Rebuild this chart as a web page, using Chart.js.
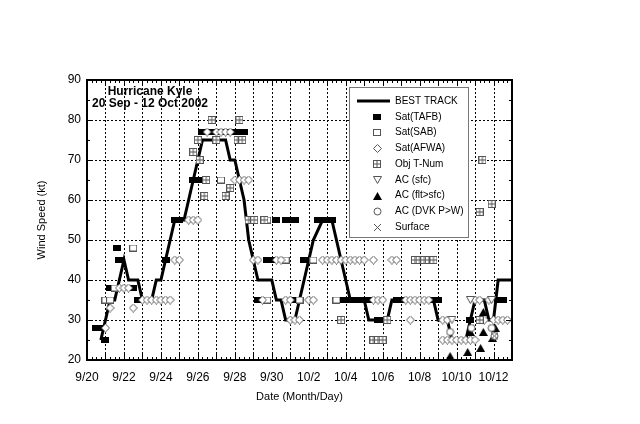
<!DOCTYPE html>
<html>
<head>
<meta charset="utf-8">
<title>Hurricane Kyle - wind speed</title>
<script src="https://cdn.jsdelivr.net/npm/chart.js@4.4.1/dist/chart.umd.min.js"></script>
<style>
  html, body { margin: 0; padding: 0; background: #fff; }
  #chart { display: block; }
</style>
</head>
<body>
<canvas id="chart" width="640" height="424"></canvas>
<script>
// x = days since 20 Sep 2002 00 UTC, y = wind speed (kt)
const xTickLabels = ['9/20', '9/22', '9/24', '9/26', '9/28', '9/30', '10/2', '10/4', '10/6', '10/8', '10/10', '10/12'];
const yTickValues = [20, 30, 40, 50, 60, 70, 80, 90];
const xMaxDay = 23;

const bestTrack = [
  [0.75, 25], [1.0, 30], [1.25, 35], [1.5, 35], [1.75, 40], [2.0, 45], [2.25, 40], [2.75, 40],
  [3.0, 35], [3.5, 35], [3.75, 40], [4.0, 40], [4.25, 45], [4.5, 50], [4.75, 55], [5.25, 55],
  [5.5, 60], [5.75, 65], [6.0, 70], [6.25, 75], [7.5, 75], [7.75, 70], [8.0, 70], [8.25, 65],
  [8.5, 60], [8.75, 50], [9.0, 45], [9.25, 40], [10.0, 40], [10.25, 35], [10.5, 35], [10.75, 30],
  [11.25, 30], [11.5, 35], [11.75, 40], [12.0, 45], [12.25, 50], [12.75, 55], [13.25, 55], [13.5, 50],
  [13.75, 45], [14.0, 40], [14.25, 35], [15.0, 35], [15.25, 30], [16.25, 30], [16.5, 35], [18.75, 35],
  [19.0, 30], [19.5, 30], [19.75, 25], [20.5, 25], [20.75, 30], [21.0, 35], [21.5, 35], [21.75, 30],
  [22.0, 30], [22.25, 40], [23.0, 40]
];

const satTafb = [
  [0.5, 28], [0.75, 28], [1.0, 25], [1.25, 38], [1.6, 48], [1.75, 45], [2.5, 38], [2.75, 35],
  [4.25, 45], [4.75, 55], [5.0, 55], [5.75, 65], [6.0, 65], [6.25, 77], [6.5, 77], [6.75, 77],
  [7.0, 77], [7.25, 77], [7.5, 77], [7.75, 77], [8.0, 77], [8.25, 77], [8.5, 77], [9.0, 55],
  [9.25, 35], [9.75, 45], [10.0, 45], [10.25, 55], [10.75, 55], [11.0, 55], [11.25, 55], [11.25, 35],
  [11.75, 45], [12.0, 45], [12.5, 55], [12.75, 55], [13.0, 55], [13.25, 55], [13.75, 35], [14.0, 35],
  [14.25, 35], [14.5, 35], [14.75, 35], [15.0, 35], [15.25, 35], [15.75, 30], [16.0, 30], [16.75, 35],
  [17.0, 35], [18.75, 35], [19.0, 35], [20.75, 30], [22.25, 35], [22.5, 35]
];

const satSab = [
  [1.0, 35], [1.25, 35], [1.5, 38], [2.5, 48], [7.25, 65], [8.75, 55], [9.75, 55], [9.75, 35],
  [10.75, 45], [11.5, 35], [12.25, 45], [13.5, 35]
];

const satAfwa = [
  [1.0, 28], [1.25, 33], [1.75, 38], [2.0, 38], [2.25, 38], [2.5, 33], [3.0, 35], [3.25, 35],
  [3.5, 35], [3.75, 35], [4.0, 35], [4.25, 35], [4.5, 35], [4.75, 45], [5.0, 45], [5.5, 55],
  [5.75, 55], [6.0, 55], [6.5, 77], [7.0, 77], [7.25, 77], [7.5, 77], [7.75, 77], [8.0, 65],
  [8.25, 65], [8.5, 65], [8.75, 65], [9.0, 45], [9.25, 45], [9.5, 35], [10.25, 45], [10.5, 45],
  [10.75, 35], [11.0, 35], [11.0, 30], [11.25, 30], [11.5, 30], [12.0, 35], [12.25, 35],
  [12.75, 45], [13.0, 45], [13.25, 45], [13.5, 45], [13.75, 45], [14.0, 45], [14.25, 45], [14.5, 45],
  [14.75, 45], [15.0, 45], [15.5, 45], [16.5, 45], [16.75, 45], [15.5, 35], [15.75, 35], [16.0, 35],
  [17.25, 35], [17.5, 35], [17.75, 35], [18.0, 35], [18.25, 35], [18.5, 35], [17.5, 30], [19.25, 30],
  [19.5, 30], [19.25, 25], [19.5, 25], [19.75, 25], [20.0, 25], [20.25, 25], [20.5, 25], [20.75, 25],
  [21.0, 25], [21.0, 35], [21.25, 35], [21.75, 35], [21.5, 30], [22.0, 30], [22.25, 30], [22.5, 30],
  [22.75, 30]
];

const objTNum = [
  [5.75, 72], [6.0, 75], [6.1, 70], [6.35, 61], [6.45, 65], [6.75, 80], [7.0, 75], [7.5, 61],
  [7.75, 63], [8.15, 75], [8.25, 80], [8.4, 75], [8.75, 55], [9.05, 55], [9.6, 55], [13.75, 30],
  [16.25, 30], [15.5, 25], [15.75, 25], [16.0, 25], [17.75, 45], [18.0, 45], [18.25, 45], [18.5, 45],
  [18.75, 45], [21.25, 30], [21.25, 57], [21.4, 70], [21.9, 59]
];

const acSfc = [[19.75, 30], [20.75, 35], [21.9, 35]];
const acFltSfc = [[19.65, 21], [20.6, 22], [20.75, 27], [21.3, 23], [21.45, 27], [21.45, 32], [21.95, 25.5], [22.1, 28]];
const acDvk = [[19.65, 27], [20.8, 28], [21.9, 28], [22.05, 26]];
const surface = [[22.05, 26]];

(function () {
  const FONT = '"Liberation Sans", Arial, Helvetica, sans-serif';
  const GREY = '#555';

  function mk(w, h, draw) {
    const c = document.createElement('canvas');
    c.width = w; c.height = h;
    const g = c.getContext('2d');
    g.lineWidth = 1;
    draw(g);
    return c;
  }

  // marker glyphs
  const markTafb = mk(8, 6, g => { g.fillStyle = '#000'; g.fillRect(0, 0, 8, 6); });
  const markSab = mk(8, 7, g => {
    g.fillStyle = '#fff'; g.fillRect(0, 0, 8, 7);
    g.strokeStyle = GREY; g.strokeRect(0.5, 0.5, 7, 6);
  });
  const markAfwa = mk(9, 9, g => {
    g.beginPath(); g.moveTo(4.5, 0.5); g.lineTo(8.5, 4.5); g.lineTo(4.5, 8.5); g.lineTo(0.5, 4.5); g.closePath();
    g.fillStyle = '#fff'; g.fill(); g.strokeStyle = GREY; g.stroke();
  });
  const markObj = mk(8, 8, g => {
    g.fillStyle = '#fff'; g.fillRect(0, 0, 8, 8);
    g.strokeStyle = GREY; g.strokeRect(0.5, 0.5, 7, 7);
    g.beginPath(); g.moveTo(4, 0.5); g.lineTo(4, 7.5); g.moveTo(0.5, 4); g.lineTo(7.5, 4); g.stroke();
  });
  const markAcSfc = mk(9, 8, g => {
    g.beginPath(); g.moveTo(0.5, 0.5); g.lineTo(8.5, 0.5); g.lineTo(4.5, 7.5); g.closePath();
    g.fillStyle = '#fff'; g.fill(); g.strokeStyle = GREY; g.stroke();
  });
  const markAcFlt = mk(9, 8, g => {
    g.beginPath(); g.moveTo(4.5, 0); g.lineTo(9, 8); g.lineTo(0, 8); g.closePath();
    g.fillStyle = '#000'; g.fill();
  });
  const markDvk = mk(9, 9, g => {
    g.beginPath(); g.arc(4.5, 4.5, 3.5, 0, Math.PI * 2);
    g.fillStyle = '#fff'; g.fill(); g.strokeStyle = GREY; g.stroke();
  });
  const markSurface = mk(9, 9, g => {
    g.beginPath(); g.moveTo(1, 1); g.lineTo(8, 8); g.moveTo(8, 1); g.lineTo(1, 8);
    g.strokeStyle = GREY; g.stroke();
  });

  const pts = arr => arr.map(([x, y]) => ({ x, y }));

  function scatterSet(label, arr, mark, order) {
    return {
      type: 'scatter', label, data: pts(arr), pointStyle: mark,
      pointRadius: 4, pointHoverRadius: 4, order
    };
  }

  const datasets = [
    {
      type: 'line', label: 'BEST TRACK', data: pts(bestTrack),
      borderColor: '#000', borderWidth: 3, pointRadius: 0, tension: 0, fill: false, order: 10
    },
    scatterSet('Sat(TAFB)', satTafb, markTafb, 9),
    scatterSet('Sat(SAB)', satSab, markSab, 8),
    scatterSet('Sat(AFWA)', satAfwa, markAfwa, 7),
    scatterSet('Obj T-Num', objTNum, markObj, 6),
    scatterSet('AC (sfc)', acSfc, markAcSfc, 5),
    scatterSet('AC (flt>sfc)', acFltSfc, markAcFlt, 4),
    scatterSet('AC (DVK P>W)', acDvk, markDvk, 3),
    scatterSet('Surface', surface, markSurface, 2)
  ];

  const frame = {
    id: 'frame',
    beforeDatasetsDraw(chart) {
      const { ctx, chartArea: a, scales: { x, y } } = chart;
      ctx.save();
      ctx.strokeStyle = '#000';
      ctx.lineWidth = 1;
      ctx.setLineDash([2, 2]);
      ctx.beginPath();
      for (let d = 1; d < xMaxDay; d++) {
        const px = Math.round(x.getPixelForValue(d)) + 0.5;
        ctx.moveTo(px, a.top); ctx.lineTo(px, a.bottom);
      }
      yTickValues.slice(1, -1).forEach(v => {
        const py = Math.round(y.getPixelForValue(v)) + 0.5;
        ctx.moveTo(a.left, py); ctx.lineTo(a.right, py);
      });
      ctx.stroke();
      ctx.restore();
    },
    afterDatasetsDraw(chart) {
      const { ctx, chartArea: a, scales: { x, y } } = chart;
      ctx.save();
      ctx.strokeStyle = '#000';
      ctx.lineWidth = 1;
      ctx.beginPath();
      // 6-hourly ticks top & bottom
      for (let q = 0; q <= xMaxDay * 4; q++) {
        const px = Math.round(x.getPixelForValue(q / 4)) + 0.5;
        const len = q % 4 === 0 ? 6 : 3;
        ctx.moveTo(px, a.bottom); ctx.lineTo(px, a.bottom - len);
        ctx.moveTo(px, a.top); ctx.lineTo(px, a.top + len);
      }
      // 5 kt ticks left & right
      const y0 = yTickValues[0], y1 = yTickValues[yTickValues.length - 1];
      for (let v = y0; v <= y1; v += 5) {
        const py = Math.round(y.getPixelForValue(v)) + 0.5;
        const len = v % 10 === 0 ? 6 : 3;
        ctx.moveTo(a.left, py); ctx.lineTo(a.left + len, py);
        ctx.moveTo(a.right, py); ctx.lineTo(a.right - len, py);
      }
      ctx.stroke();
      ctx.lineWidth = 2;
      ctx.strokeRect(a.left, a.top, a.right - a.left, a.bottom - a.top);
      ctx.restore();
    },
    afterDraw(chart) {
      const { ctx, chartArea: a } = chart;
      ctx.save();

      // storm title
      ctx.fillStyle = '#000';
      ctx.textAlign = 'center';
      ctx.textBaseline = 'middle';
      ctx.font = 'bold 12px ' + FONT;
      ctx.fillText('Hurricane Kyle', 150, 92);
      ctx.fillText('20 Sep - 12 Oct 2002', 150, 104);

      // axis titles
      ctx.font = '11px ' + FONT;
      ctx.fillText('Date (Month/Day)', (a.left + a.right) / 2, 397);
      ctx.save();
      ctx.translate(42, (a.top + a.bottom) / 2);
      ctx.rotate(-Math.PI / 2);
      ctx.fillText('Wind Speed (kt)', 0, 0);
      ctx.restore();

      // legend box
      const bx = 349.5, by = 87.5, bw = 119, bh = 150;
      ctx.fillStyle = '#fff';
      ctx.fillRect(bx, by, bw, bh);
      ctx.strokeStyle = '#777';
      ctx.lineWidth = 1;
      ctx.strokeRect(bx, by, bw, bh);

      ctx.font = '10px ' + FONT;
      ctx.textAlign = 'left';
      chart.data.datasets.forEach((ds, i) => {
        const ly = 101 + i * 15.75;
        if (ds.type === 'line') {
          ctx.strokeStyle = '#000';
          ctx.lineWidth = 3;
          ctx.beginPath(); ctx.moveTo(357, ly); ctx.lineTo(390, ly); ctx.stroke();
        } else {
          const m = ds.pointStyle;
          ctx.drawImage(m, Math.round(377 - m.width / 2), Math.round(ly - m.height / 2));
        }
        ctx.fillStyle = '#000';
        ctx.fillText(ds.label, 395, ly);
      });
      ctx.restore();
    }
  };

  const tickFont = { family: FONT, size: 12 };

  new Chart(document.getElementById('chart'), {
    type: 'scatter',
    data: { datasets },
    options: {
      responsive: false,
      animation: false,
      events: [],
      layout: { padding: { left: 0, top: 80, right: 128, bottom: 0 } },
      plugins: { legend: { display: false }, tooltip: { enabled: false }, title: { display: false } },
      scales: {
        x: {
          type: 'linear', min: 0, max: xMaxDay,
          afterBuildTicks: s => { s.ticks = xTickLabels.map((_, i) => ({ value: i * 2 })); },
          afterFit: s => { s.height = 64; },
          ticks: {
            autoSkip: false, maxRotation: 0, padding: 10, color: '#000', font: tickFont,
            callback: v => xTickLabels[Math.round(v / 2)]
          },
          grid: { display: false, drawTicks: false },
          border: { display: false }
        },
        y: {
          type: 'linear', min: yTickValues[0], max: yTickValues[yTickValues.length - 1],
          afterBuildTicks: s => { s.ticks = yTickValues.map(v => ({ value: v })); },
          afterFit: s => { s.width = 87; },
          ticks: { padding: 6, color: '#000', font: tickFont },
          grid: { display: false, drawTicks: false },
          border: { display: false }
        }
      }
    },
    plugins: [frame]
  });
})();
</script>
</body>
</html>
